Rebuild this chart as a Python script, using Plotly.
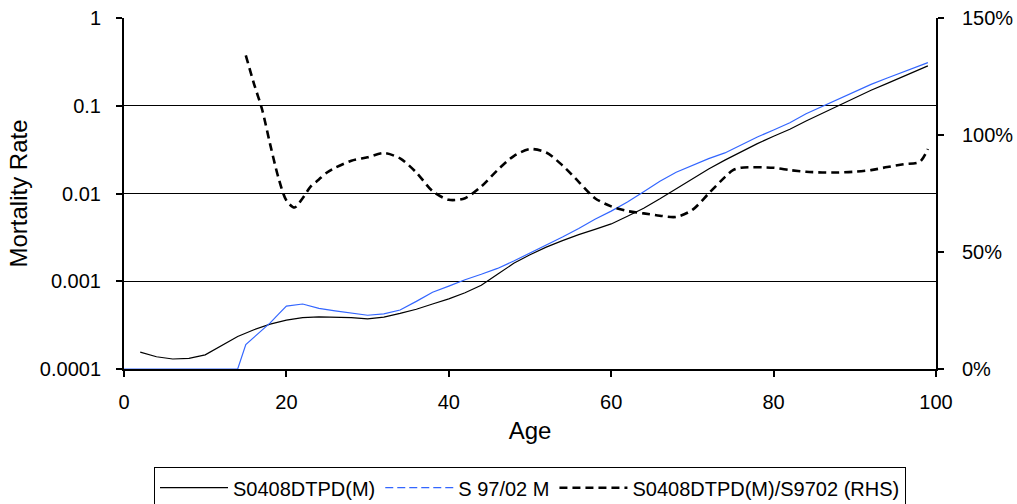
import plotly.graph_objects as go

# ---- data ----
ages_dtpd = [2, 4, 6, 8, 10, 12, 14, 16, 18, 20, 22, 24, 26, 28, 30, 32, 34, 36, 38, 40,
             42, 44, 46, 48, 50, 52, 54, 56, 58, 60, 62, 64, 66, 68, 70, 72, 74, 76, 78, 80,
             82, 84, 86, 88, 90, 92, 94, 96, 98, 99]
s0408_dtpd = [1.56e-4, 1.38e-4, 1.30e-4, 1.32e-4, 1.45e-4, 1.85e-4, 2.35e-4, 2.80e-4, 3.25e-4, 3.60e-4,
              3.85e-4, 3.92e-4, 3.88e-4, 3.85e-4, 3.72e-4, 3.90e-4, 4.30e-4, 4.80e-4, 5.50e-4, 6.30e-4,
              7.40e-4, 9.00e-4, 1.20e-3, 1.60e-3, 2.00e-3, 2.45e-3, 2.90e-3, 3.40e-3, 3.90e-3, 4.50e-3,
              5.50e-3, 6.80e-3, 8.70e-3, 0.0113, 0.0145, 0.019, 0.024, 0.030, 0.037, 0.045,
              0.054, 0.067, 0.082, 0.100, 0.123, 0.150, 0.180, 0.215, 0.260, 0.285]

ages_s9702 = [0, 2, 4, 6, 8, 10, 12, 14, 15, 16, 18, 19, 20, 22, 24, 26, 28, 30, 32, 34, 36, 38, 40,
              42, 44, 46, 48, 50, 52, 54, 56, 58, 60, 62, 64, 66, 68, 70, 72, 74, 76, 78, 80,
              82, 84, 86, 88, 90, 92, 94, 96, 98, 99]
s9702_m = [1e-4, 1e-4, 1e-4, 1e-4, 1e-4, 1e-4, 1e-4, 1e-4, 1.9e-4, 2.3e-4, 3.35e-4, 4.2e-4, 5.2e-4,
           5.5e-4, 4.9e-4, 4.6e-4, 4.3e-4, 4.1e-4, 4.25e-4, 4.7e-4, 5.9e-4, 7.5e-4, 8.8e-4,
           1.04e-3, 1.20e-3, 1.40e-3, 1.70e-3, 2.10e-3, 2.55e-3, 3.20e-3, 4.00e-3, 5.10e-3, 6.30e-3,
           8.00e-3, 0.0105, 0.0138, 0.0175, 0.021, 0.025, 0.029, 0.036, 0.044, 0.053,
           0.064, 0.081, 0.098, 0.120, 0.145, 0.175, 0.207, 0.245, 0.290, 0.310]

ages_ratio = [15, 16, 17, 18, 19, 20, 21, 22, 23, 24, 25, 26, 28, 30, 32, 34, 36, 38, 40, 42,
              44, 46, 48, 50, 52, 54, 56, 58, 60, 62, 64, 66, 68, 70, 72, 74, 75, 76, 80, 82,
              84, 86, 88, 90, 92, 94, 96, 98, 99]
ratio_pct = [1.34, 1.22, 1.11, 0.96, 0.82, 0.72, 0.69, 0.73, 0.78, 0.81, 0.84, 0.86, 0.89, 0.905, 0.923, 0.90, 0.84, 0.76, 0.723, 0.73,
             0.78, 0.85, 0.91, 0.94, 0.925, 0.87, 0.80, 0.73, 0.695, 0.675, 0.665, 0.655, 0.65, 0.68, 0.75, 0.82, 0.85, 0.86, 0.86, 0.85,
             0.843, 0.84, 0.84, 0.843, 0.85, 0.863, 0.875, 0.885, 0.94]

y_ticks = [0.0001, 0.001, 0.01, 0.1, 1]
y_ticktext = ["0.0001", "0.001", "0.01", "0.1", "1"]
x_ticks = [0, 20, 40, 60, 80, 100]
y2_ticks = [0, 0.5, 1.0, 1.5]

FONT = "Liberation Sans, Arial, sans-serif"
FS = 20
BLUE = "rgb(51,102,255)"

fig = go.Figure()

fig.add_trace(go.Scatter(x=ages_dtpd, y=s0408_dtpd, mode="lines", name="S0408DTPD(M)",
                         line=dict(color="black", width=1.2)))
fig.add_trace(go.Scatter(x=ages_s9702, y=s9702_m, mode="lines", name="S 97/02 M",
                         line=dict(color=BLUE, width=1.2), showlegend=False))
fig.add_trace(go.Scatter(x=[None], y=[None], mode="lines", name="S 97/02 M",
                         line=dict(color=BLUE, width=1.2, dash="8px,4px")))
fig.add_trace(go.Scatter(x=ages_ratio, y=ratio_pct, mode="lines", name="S0408DTPD(M)/S9702 (RHS)",
                         yaxis="y2", line=dict(color="black", width=2.6, dash="8px,5px", shape="spline",
                                               smoothing=0.8)))

fig.update_layout(
    width=1017, height=504,
    margin=dict(l=124, r=81, t=18, b=135),
    paper_bgcolor="white", plot_bgcolor="white",
    font=dict(family=FONT, size=FS, color="black"),
    xaxis=dict(range=[0, 100], tickvals=x_ticks, ticks="outside", ticklen=6, tickwidth=1.5,
               tickcolor="black", showline=True, linecolor="black", linewidth=2, showgrid=False,
               zeroline=False, automargin=False, ticklabelstandoff=8,
               title=dict(text="Age", standoff=10), tickfont=dict(size=FS)),
    yaxis=dict(type="log", range=[-4, 0], tickvals=y_ticks, ticktext=y_ticktext, ticks="outside",
               ticklen=6, tickwidth=1.5, tickcolor="black", showline=True, linecolor="black", linewidth=2,
               showgrid=True, gridcolor="black", gridwidth=1, zeroline=False, automargin=False,
               ticklabelstandoff=11,
               title=dict(text="Mortality Rate", standoff=5), tickfont=dict(size=FS)),
    yaxis2=dict(overlaying="y", side="right", range=[0, 1.5], tickvals=y2_ticks, tickformat=".0%",
                ticks="outside", ticklen=6, tickwidth=1.5, tickcolor="black", showline=True,
                linecolor="black", linewidth=2, showgrid=False, zeroline=False, automargin=False,
                ticklabelstandoff=14, tickfont=dict(size=FS)),
    legend=dict(orientation="h", xref="paper", yref="container", x=0.5, xanchor="center",
                y=0.073, yanchor="top", bordercolor="black", borderwidth=1, font=dict(size=FS),
                itemwidth=68, tracegroupgap=0),
    showlegend=True,
)

fig.write_html("out.html", config={"displayModeBar": False},
               post_script="document.body.style.margin='0';")
